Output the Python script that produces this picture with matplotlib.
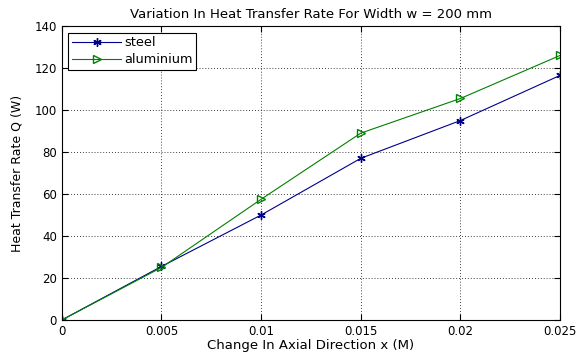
import matplotlib
matplotlib.use('Agg')
import matplotlib.pyplot as plt

plt.rcParams['font.family'] = ['DejaVu Sans']

# Datos
x = [0, 0.005, 0.01, 0.015, 0.02, 0.025]
steel = [0, 25.5, 50, 77, 95, 116.5]
aluminium = [0, 25, 57.5, 89, 105.5, 126]
xticks = [0, 0.005, 0.01, 0.015, 0.02, 0.025]
xtick_labels = ['0', '0.005', '0.01', '0.015', '0.02', '0.025']
yticks = [0, 20, 40, 60, 80, 100, 120, 140]

fig = plt.figure(figsize=(5.78, 3.52), dpi=100)
ax = fig.add_axes([0.107, 0.091, 0.862, 0.835])

# asterisco estilo MATLAB
ax.plot(x, steel, color='#00008b', marker=(6, 2, 0), markersize=6, markeredgewidth=1.0,
        linewidth=0.8, label='steel')
ax.plot(x, aluminium, color='#008000', marker='>', markersize=6, markerfacecolor='none',
        linewidth=0.8, label='aluminium')

ax.set_xlim(0, 0.025)
ax.set_ylim(0, 140)
ax.set_xticks(xticks)
ax.set_xticklabels(xtick_labels)
ax.set_yticks(yticks)
ax.grid(True, color='black', linestyle=(0, (1, 2.5)), linewidth=0.6)
ax.tick_params(direction='in', labelsize=8.5, length=4, top=True, right=True)
for s in ax.spines.values():
    s.set_linewidth(0.8)

ax.set_xlabel('Change In Axial Direction x (M)', fontsize=9.5, labelpad=1)
ax.set_ylabel('Heat Transfer Rate Q (W)', fontsize=9, labelpad=8)
ax.set_title('Variation In Heat Transfer Rate For Width w = 200 mm', fontsize=9.5, pad=6)

leg = ax.legend(loc='upper left', fontsize=9.3, fancybox=False, framealpha=1,
                edgecolor='black', borderaxespad=0.5, handlelength=3.8,
                borderpad=0.3, labelspacing=0.3, handletextpad=0.2)
leg.get_frame().set_linewidth(0.8)

fig.savefig('out.png', dpi=100)
